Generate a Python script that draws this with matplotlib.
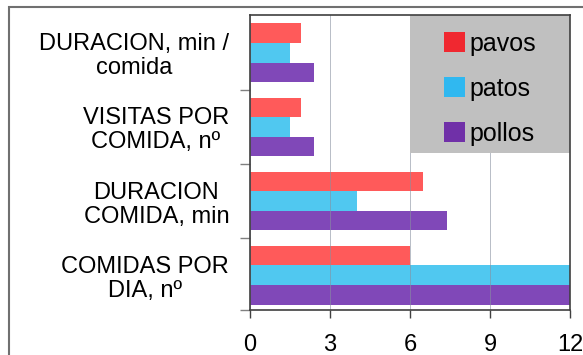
import numpy as np
import matplotlib
matplotlib.use('Agg')
import matplotlib.pyplot as plt
from matplotlib.patches import Rectangle, Patch

plt.rcParams['font.family'] = ['Liberation Sans', 'DejaVu Sans']

# categories listed bottom -> top
categories = ['COMIDAS POR\nDIA, nº', 'DURACION\nCOMIDA, min',
              'VISITAS POR\nCOMIDA, nº', 'DURACION, min /\ncomida']
pavos = [6.0, 6.5, 1.9, 1.9]
patos = [12.0, 4.0, 1.5, 1.5]
pollos = [12.0, 7.4, 2.4, 2.4]
series = ['pavos', 'patos', 'pollos']
bar_colors = ['#ff5a5a', '#50c8f0', '#8048b8']
swatch_colors = ['#f02830', '#30b8f0', '#7030a8']
xticks = [0, 3, 6, 9, 12]

fig = plt.figure(figsize=(5.83, 3.55), dpi=100)
ax = fig.add_axes([250 / 583, 45 / 355, 320 / 583, 295 / 355])

y = np.arange(len(categories))
h = 0.264
for vals, off, col in zip([pavos, patos, pollos], [h, 0, -h], bar_colors):
    ax.barh(y + off, vals, height=h, color=col, zorder=2)

ax.set_xlim(0, 12)
ax.set_ylim(-0.47, 3.51)
ax.set_xticks(xticks)
ax.set_xticklabels([str(t) for t in xticks], fontsize=17)
ax.tick_params(axis='x', length=6, width=1, color='#404040', pad=11)

ax.set_yticks(y)
ax.set_yticklabels(categories, fontsize=17, linespacing=1.12,
                   ha='right', multialignment='center')
ax.tick_params(axis='y', which='major', length=0, pad=15)
ax.set_yticks([-0.47, 0.5, 1.5, 2.5], minor=True)
ax.tick_params(axis='y', which='minor', length=7, width=1, color='#808080')

ax.grid(axis='x', color='#8890a0', lw=0.7, alpha=0.6, zorder=2.5)
ax.set_axisbelow(False)
for sp in ax.spines.values():
    sp.set_color('#404040')
    sp.set_linewidth(1.2)
    sp.set_zorder(5)

# grey legend panel in the upper right corner
ax.add_patch(Rectangle((0.5, 0.532), 0.5, 0.468, transform=ax.transAxes,
                       facecolor='#c0c0c0', edgecolor='none', zorder=3))
handles = [Patch(facecolor=c, edgecolor='none') for c in swatch_colors]
leg = ax.legend(handles, series, loc='center', bbox_to_anchor=(0.75, 0.75),
                frameon=False, fontsize=18, handlelength=0.85, handleheight=0.85,
                handletextpad=0.2, labelspacing=0.85)
leg.set_zorder(4)

# outer chart border
fig.add_artist(Rectangle((9 / 583, -0.2), 1.2, 1.2 - 7 / 355,
                         transform=fig.transFigure, fill=False,
                         edgecolor='#707070', lw=1.5))

fig.savefig('out.png', dpi=100)
